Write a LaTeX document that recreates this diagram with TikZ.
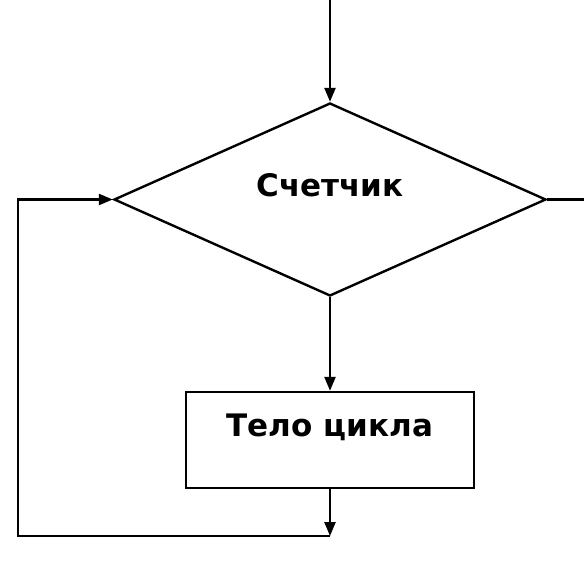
\documentclass[tikz,border=0pt]{standalone}
\usepackage{fontspec}
\setmainfont{DejaVu Sans}
\usetikzlibrary{shapes.geometric,arrows.meta}
\begin{document}
\begin{tikzpicture}[x=1pt,y=-1pt,
  line width=2.4pt,
  arr/.style={-{Triangle[length=14pt,width=11pt]}},
  decision/.style={draw,diamond,minimum width=432pt,minimum height=193pt,inner sep=0pt,aspect=2.24},
  block/.style={draw,rectangle,minimum width=288pt,minimum height=96pt,inner sep=0pt},
  lbl/.style={font=\fontsize{31}{36}\selectfont\bfseries,inner sep=0pt}]
\useasboundingbox (0,0) rectangle (584,583);
\node[decision] (dia) at (330,199.5) {};
\node[lbl] (t1) at (330,185) {Счетчик};
\node[block] (box) at (330,440) {};
\node[lbl] (t2) at (330,427) {Тело цикла};
\coordinate (top) at (330,0);
\coordinate (right) at (584,199.5);
\coordinate (bot) at (330,536);
\coordinate (bl) at (18,536);
\draw[arr] (top) -- (dia.north);
\draw (dia.east) -- (right);
\draw[arr] (dia.south) -- (box.north);
\draw[arr] (box.south) -- (bot);
\draw[arr] (bot) -- (bl) |- (dia.west);
\end{tikzpicture}
\end{document}
